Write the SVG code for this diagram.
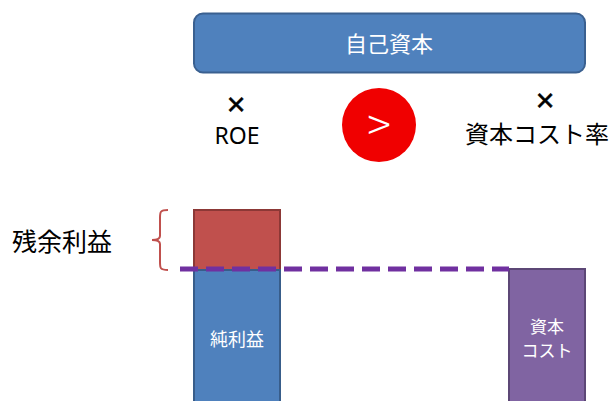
<svg xmlns="http://www.w3.org/2000/svg" width="610" height="401" viewBox="0 0 610 401">
<style>
.jp{font-family:"Noto Sans CJK JP","Noto Sans",sans-serif}
.w{fill:#fff}
.k{fill:#000}
.x{font-family:"Liberation Sans",Arial,sans-serif;font-size:32px;fill:#000;stroke:#000;stroke-width:0.6}
</style>
<rect width="610" height="401" fill="#fff"/>
<g id="equity">
<rect x="194" y="13.5" width="391" height="59" rx="9" fill="#4f81bd" stroke="#3a6090" stroke-width="2"/>
<text x="389" y="52" text-anchor="middle" font-size="22" class="jp w">自己資本</text>
</g>
<g id="roe">
<text x="236" y="115" text-anchor="middle" class="x">×</text>
<text x="237" y="144" text-anchor="middle" font-size="23" font-family="Noto Sans,sans-serif" fill="#000">ROE</text>
</g>
<g id="gt">
<circle cx="379" cy="125" r="37" fill="#f00000"/>
<text x="379" y="141" text-anchor="middle" font-size="44" font-weight="300" class="jp w">&gt;</text>
</g>
<g id="costrate">
<text x="545" y="111" text-anchor="middle" class="x">×</text>
<text x="537" y="143" text-anchor="middle" font-size="24" class="jp k">資本コスト率</text>
</g>
<g id="residual">
<text x="12" y="251" font-size="25" class="jp k">残余利益</text>
<path d="M168,210 C160,210 160,212 160,218 L160,236 Q160,240 152,240 Q160,240 160,244 L160,262 C160,268 160,270 168,270" fill="none" stroke="#c0504d" stroke-width="2"/>
<rect x="194" y="210" width="86" height="60" fill="#c0504d" stroke="#8c3836" stroke-width="2"/>
</g>
<g id="netincome">
<rect x="194" y="270" width="86" height="135" fill="#4f81bd" stroke="#385d8a" stroke-width="2"/>
<text x="237" y="346" text-anchor="middle" font-size="18" class="jp w">純利益</text>
</g>
<g id="cost">
<rect x="509" y="269" width="76" height="136" fill="#8064a2" stroke="#5c4776" stroke-width="2"/>
<text x="547" y="333" text-anchor="middle" font-size="17" class="jp w">資本</text>
<text x="547" y="357" text-anchor="middle" font-size="17" class="jp w">コスト</text>
</g>
<g id="connectors">
<line x1="180" y1="269" x2="509" y2="269" stroke="#7030a0" stroke-width="5" stroke-dasharray="18 8"/>
</g>
</svg>
